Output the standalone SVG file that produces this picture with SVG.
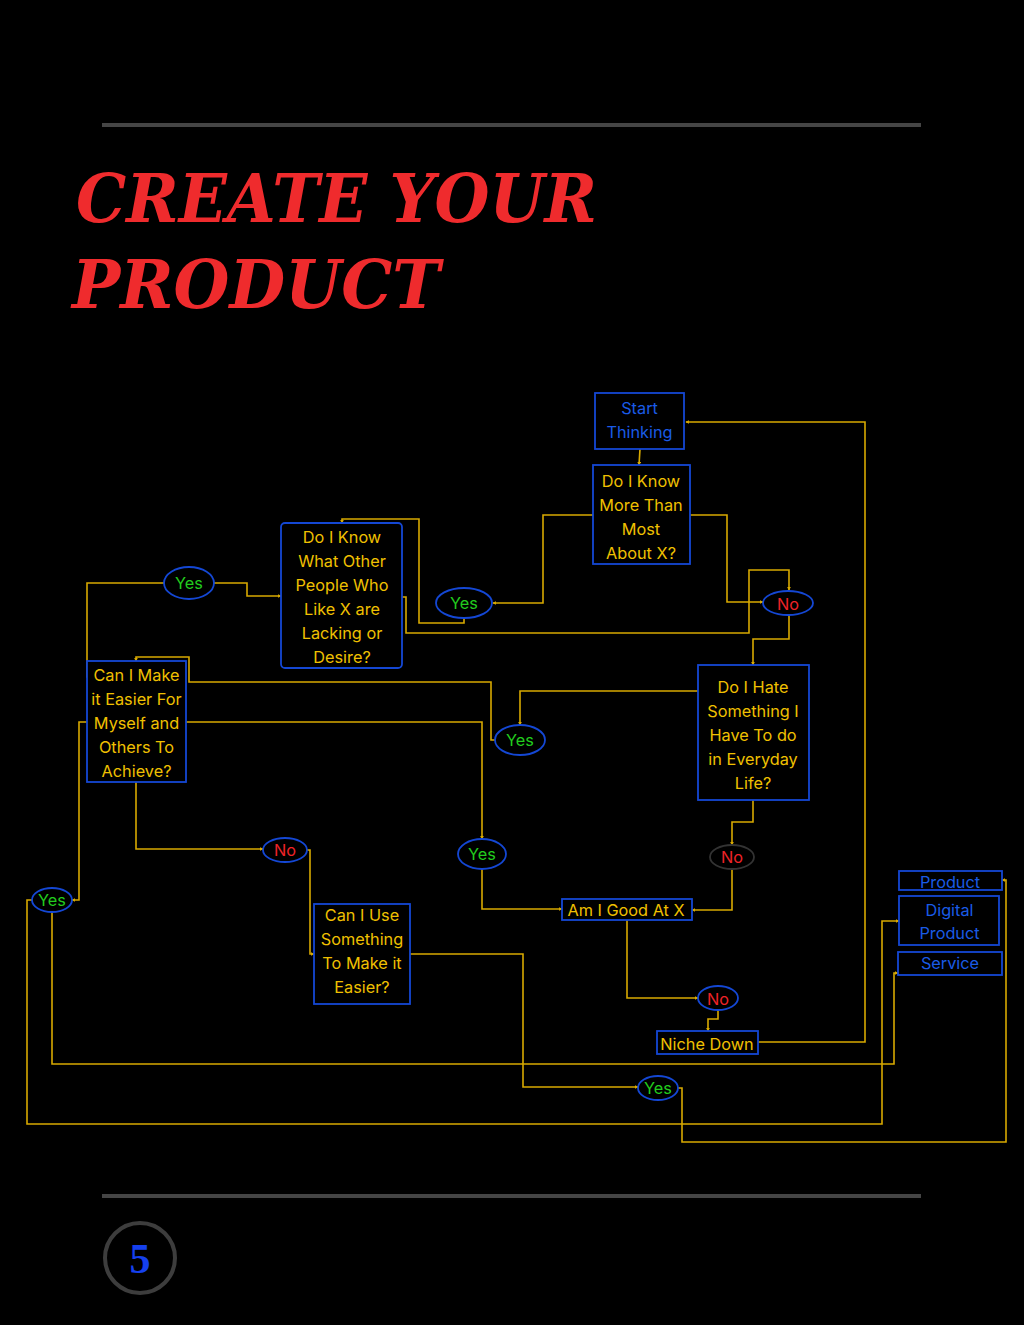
<svg xmlns="http://www.w3.org/2000/svg" width="1024" height="1325" viewBox="0 0 1024 1325">
<defs>
<style>
.rule{stroke:#454545;stroke-width:4;fill:none}
.title{font-family:"DejaVu Serif",serif;font-weight:bold;font-style:italic;fill:#ef2b2d;font-size:67px}
.box{fill:#000;stroke:#1447d4;stroke-width:1.8}
.oval{fill:#000;stroke:#1447d4;stroke-width:1.8}
.t{font-family:Inter,"Noto Sans",sans-serif;font-size:16.3px;text-anchor:middle;dominant-baseline:central}
.y{fill:#f0c000}
.b{fill:#1a5be6}
.g{fill:#22cc1e}
.r{fill:#ee2328}
.c{fill:none;stroke:#d8a900;stroke-width:1.6;marker-end:url(#ah)}
</style>
<marker id="ah" viewBox="0 0 6 6" refX="5" refY="3" markerWidth="4" markerHeight="4" orient="auto" markerUnits="userSpaceOnUse">
<path d="M0,0 L6,3 L0,6 z" fill="#d8a900"/>
</marker>
</defs>
<rect width="1024" height="1325" fill="#000"/>
<line class="rule" x1="102" y1="125" x2="921" y2="125"/>
<line class="rule" x1="102" y1="1196" x2="921" y2="1196"/>
<text class="title" x="76" y="222" textLength="521" lengthAdjust="spacingAndGlyphs">CREATE YOUR</text>
<text class="title" x="72" y="308" textLength="368" lengthAdjust="spacingAndGlyphs">PRODUCT</text>

<g id="connectors">
<polyline class="c" points="758,1042 865,1042 865,422 686,422"/>
<polyline class="c" points="640,449 639,465"/>
<polyline class="c" points="593,515 543,515 543,603 493,603"/>
<polyline class="c" points="690,515 727,515 727,602 763,602"/>
<polyline class="c" points="464,618 464,623 419,623 419,519 342,519 342,523"/>
<polyline class="c" points="402,597 406,597 406,633 749,633 749,570 789,570 789,590"/>
<polyline class="c" points="789,615 789,639 753,639 753,665"/>
<polyline class="c" points="698,691 520,691 520,725"/>
<polyline class="c" points="495,740 491,740 491,682 189,682 189,657 136,657 136,661"/>
<polyline class="c" points="186,722 482,722 482,839"/>
<polyline class="c" points="482,869 482,909 562,909"/>
<polyline class="c" points="753,800 753,822 732,822 732,845"/>
<polyline class="c" points="732,869 732,910 692,910"/>
<polyline class="c" points="627,920 627,998 698,998"/>
<polyline class="c" points="718,1010 718,1019 708,1019 708,1031"/>
<polyline class="c" points="164,583 87,583 87,677 90,677"/>
<polyline class="c" points="214,583 247,583 247,596 281,596"/>
<polyline class="c" points="87,722 79,722 79,900 72,900"/>
<polyline class="c" points="136,782 136,849 263,849"/>
<polyline class="c" points="307,850 310,850 310,954 314,954"/>
<polyline class="c" points="52,912 52,1064 894,1064 894,973 898,973"/>
<polyline class="c" points="32,900 27,900 27,1124 882,1124 882,921 899,921"/>
<polyline class="c" points="410,954 523,954 523,1087 638,1087"/>
<polyline class="c" points="678,1088 682,1088 682,1142 1006,1142 1006,880 1002,880"/>
</g>

<g id="start-thinking">
<rect class="box" x="595" y="393" width="89" height="56"/>
<text class="t b" x="639.5" y="408">Start</text>
<text class="t b" x="639.5" y="432">Thinking</text>
</g>
<g id="know-more">
<rect class="box" x="593" y="465" width="97" height="99"/>
<text class="t y" x="641" y="481">Do I Know</text>
<text class="t y" x="641" y="505">More Than</text>
<text class="t y" x="641" y="529">Most</text>
<text class="t y" x="641" y="553">About X?</text>
</g>
<g id="know-lacking">
<rect class="box" x="281" y="523" width="121" height="145" rx="4"/>
<text class="t y" x="342" y="537">Do I Know</text>
<text class="t y" x="342" y="561">What Other</text>
<text class="t y" x="342" y="585">People Who</text>
<text class="t y" x="342" y="609">Like X are</text>
<text class="t y" x="342" y="633">Lacking or</text>
<text class="t y" x="342" y="657">Desire?</text>
</g>
<g id="make-easier">
<rect class="box" x="87" y="661" width="99" height="121"/>
<text class="t y" x="136.5" y="675">Can I Make</text>
<text class="t y" x="136.5" y="699">it Easier For</text>
<text class="t y" x="136.5" y="723">Myself and</text>
<text class="t y" x="136.5" y="747">Others To</text>
<text class="t y" x="136.5" y="771">Achieve?</text>
</g>
<g id="hate-something">
<rect class="box" x="698" y="665" width="111" height="135"/>
<text class="t y" x="753" y="687">Do I Hate</text>
<text class="t y" x="753" y="711">Something I</text>
<text class="t y" x="753" y="735">Have To do</text>
<text class="t y" x="753" y="759">in Everyday</text>
<text class="t y" x="753" y="783">Life?</text>
</g>
<g id="use-something">
<rect class="box" x="314" y="904" width="96" height="100"/>
<text class="t y" x="362" y="915">Can I Use</text>
<text class="t y" x="362" y="939">Something</text>
<text class="t y" x="362" y="963">To Make it</text>
<text class="t y" x="362" y="987">Easier?</text>
</g>
<g id="good-at-x">
<rect class="box" x="562" y="899" width="130" height="21"/>
<text class="t y" x="626" y="910">Am I Good At X</text>
</g>
<g id="niche-down">
<rect class="box" x="657" y="1031" width="101" height="23"/>
<text class="t y" x="707" y="1044">Niche Down</text>
</g>
<g id="product">
<rect class="box" x="899" y="871" width="103" height="19"/>
<text class="t b" x="950" y="882">Product</text>
</g>
<g id="digital-product">
<rect class="box" x="899" y="896" width="100" height="49"/>
<text class="t b" x="949.5" y="910">Digital</text>
<text class="t b" x="949.5" y="933">Product</text>
</g>
<g id="service">
<rect class="box" x="898" y="952" width="104" height="23"/>
<text class="t b" x="950" y="963">Service</text>
</g>

<g id="yes1"><ellipse class="oval" cx="189" cy="583" rx="25" ry="16"/><text class="t g" x="189" y="583">Yes</text></g>
<g id="yes2"><ellipse class="oval" cx="464" cy="603" rx="28" ry="15"/><text class="t g" x="464" y="603">Yes</text></g>
<g id="no1"><ellipse class="oval" cx="788" cy="603" rx="25" ry="12"/><text class="t r" x="788" y="604">No</text></g>
<g id="yes3"><ellipse class="oval" cx="520" cy="740" rx="25" ry="15"/><text class="t g" x="520" y="740">Yes</text></g>
<g id="no2"><ellipse class="oval" cx="285" cy="850" rx="22" ry="12"/><text class="t r" x="285" y="850">No</text></g>
<g id="yes4"><ellipse class="oval" cx="482" cy="854" rx="24" ry="15"/><text class="t g" x="482" y="854">Yes</text></g>
<g id="no3"><ellipse class="oval" cx="732" cy="857" rx="22" ry="12" style="stroke:#333"/><text class="t r" x="732" y="857">No</text></g>
<g id="yes5"><ellipse class="oval" cx="52" cy="900" rx="20" ry="12"/><text class="t g" x="52" y="900">Yes</text></g>
<g id="no4"><ellipse class="oval" cx="718" cy="998" rx="20" ry="12"/><text class="t r" x="718" y="999">No</text></g>
<g id="yes6"><ellipse class="oval" cx="658" cy="1088" rx="20" ry="12"/><text class="t g" x="658" y="1088">Yes</text></g>

<g id="page-number">
<circle cx="140" cy="1258" r="35" fill="none" stroke="#3d3d3d" stroke-width="4"/>
<text x="140" y="1273" font-family="'Liberation Serif',serif" font-weight="bold" font-size="42" fill="#1540ee" text-anchor="middle">5</text>
</g>
</svg>
